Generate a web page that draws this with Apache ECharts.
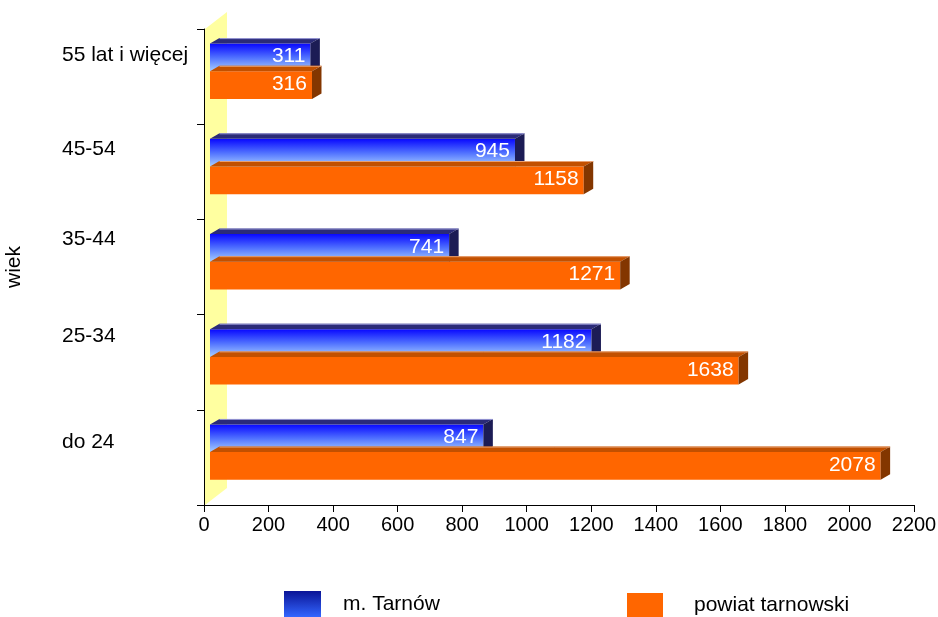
<!DOCTYPE html>
<html>
<head>
<meta charset="utf-8">
<script src="https://cdn.jsdelivr.net/npm/echarts@6/dist/echarts.min.js"></script>
<style>
html,body{margin:0;padding:0;background:#fff;}
#chart{width:938px;height:617px;}
</style>
</head>
<body>
<div id="chart"></div>
<script>
// Categories listed bottom-up (ECharts category y axis runs upward)
const categories = ['do 24', '25-34', '35-44', '45-54', '55 lat i więcej'];
const tarnowCity = [847, 1182, 741, 945, 311];
const tarnowDistrict = [2078, 1638, 1271, 1158, 316];
const seriesNames = ['m. Tarnów', 'powiat tarnowski'];
const xTicks = { min: 0, max: 2200, interval: 200 };
const axisName = 'wiek';

const FONT = "'Liberation Sans', Arial, sans-serif";

const blueFront = new echarts.graphic.LinearGradient(0, 0, 0, 1, [
  { offset: 0, color: '#0808ff' },
  { offset: 0.5, color: '#4f70ff' },
  { offset: 1, color: '#a8d0ff' }
]);
const blueLegend = new echarts.graphic.LinearGradient(0, 0, 0, 1, [
  { offset: 0, color: '#0a1496' },
  { offset: 1, color: '#3366ff' }
]);

const styles = [
  { front: blueFront, top: '#2b2b78', side: '#1c1c55', edge: '#9c9cd8', dyFront: -33 },
  { front: '#ff6600', top: '#c25000', side: '#833600', edge: '#e8a070', dyFront: -5.3 }
];

function makeBarRender(si) {
  const st = styles[si];
  return function (params, api) {
    const v = api.value(0), ci = api.value(1);
    const p0 = api.coord([0, ci]);
    const p1 = api.coord([v, ci]);
    const cy = p0[1];
    const x0 = p0[0] + 6, x1 = p1[0] + 6;
    const fy = cy + st.dyFront, h = 27.7;
    const dx = 9.5, dy = 5.5;
    return {
      type: 'group',
      children: [
        { type: 'rect', shape: { x: x0, y: fy, width: x1 - x0, height: h }, style: { fill: st.front } },
        { type: 'polygon', shape: { points: [[x0, fy], [x0 + dx, fy - dy], [x1 + dx, fy - dy], [x1, fy]] }, style: { fill: st.top } },
        { type: 'polygon', shape: { points: [[x1, fy], [x1 + dx, fy - dy], [x1 + dx, fy + h - dy], [x1, fy + h]] }, style: { fill: st.side } },
        { type: 'line', shape: { x1: x0 + dx, y1: fy - dy + 0.5, x2: x1 + dx, y2: fy - dy + 0.5 }, style: { stroke: st.edge, lineWidth: 1 } },
        { type: 'text', style: { text: String(v), x: x1 - 5, y: fy + h / 2 - 1, align: 'right', verticalAlign: 'middle', fill: '#ffffff', font: '21px ' + FONT } }
      ]
    };
  };
}

function wallRender(params, api) {
  const c = params.coordSys;
  const wx = 22, wy = 17;
  return {
    type: 'polygon',
    shape: { points: [[c.x + 1, c.y], [c.x + 1 + wx, c.y - wy], [c.x + 1 + wx, c.y + c.height - wy], [c.x + 1, c.y + c.height]] },
    style: { fill: '#ffffa0' }
  };
}

const labelShift = [30, 51, 55, 46, 43]; // bottom padding per category label
const rich = {};
labelShift.forEach((p, i) => {
  rich['a' + i] = { fontSize: 21, fontFamily: FONT, color: '#000', padding: [0, 0, p, 0], align: 'left' };
});

const chart = echarts.init(document.getElementById('chart'), null, { renderer: 'canvas' });
chart.setOption({
  animation: false,
  backgroundColor: '#ffffff',
  grid: { left: 204, right: 24, top: 29, bottom: 112, containLabel: false, outerBoundsMode: 'none' },
  xAxis: {
    type: 'value',
    min: xTicks.min, max: xTicks.max, interval: xTicks.interval,
    axisLine: { show: true, lineStyle: { color: '#000', width: 1 } },
    axisTick: { show: true, length: 7, lineStyle: { color: '#000' } },
    splitLine: { show: false },
    axisLabel: { fontSize: 20, fontFamily: FONT, color: '#000', margin: 10, formatter: v => String(v) }
  },
  yAxis: {
    type: 'category',
    data: categories,
    name: axisName,
    nameLocation: 'middle',
    nameRotate: 90,
    nameGap: 179,
    nameTextStyle: { fontSize: 21, fontFamily: FONT, color: '#000' },
    axisLine: { show: true, lineStyle: { color: '#000', width: 1 } },
    axisTick: { show: true, length: 7, lineStyle: { color: '#000' } },
    axisLabel: {
      align: 'left', margin: 142,
      formatter: (val, idx) => '{a' + idx + '|' + val + '}',
      rich: rich
    }
  },
  legend: [
    {
      data: [{ name: seriesNames[0], itemStyle: { color: blueLegend } }],
      left: 284, top: 591, padding: 0, itemWidth: 37, itemHeight: 26, icon: 'rect',
      textStyle: { fontSize: 21, fontFamily: FONT, color: '#000', padding: [4, 0, 0, 17] }
    },
    {
      data: [{ name: seriesNames[1], itemStyle: { color: '#ff6600' } }],
      left: 627, top: 593, padding: 0, itemWidth: 36, itemHeight: 24, icon: 'rect',
      textStyle: { fontSize: 21, fontFamily: FONT, color: '#000', padding: [4, 0, 0, 26] }
    }
  ],
  series: [
    {
      type: 'custom', name: 'wall', z: 1, silent: true,
      renderItem: wallRender,
      data: [[0, 0]],
      encode: { x: 0, y: 1 }
    },
    {
      type: 'custom', name: seriesNames[0], z: 2,
      itemStyle: { color: '#2040ff' },
      renderItem: makeBarRender(0),
      data: tarnowCity.map((v, i) => [v, i]),
      encode: { x: 0, y: 1 }
    },
    {
      type: 'custom', name: seriesNames[1], z: 3,
      itemStyle: { color: '#ff6600' },
      renderItem: makeBarRender(1),
      data: tarnowDistrict.map((v, i) => [v, i]),
      encode: { x: 0, y: 1 }
    }
  ]
});
</script>
</body>
</html>
